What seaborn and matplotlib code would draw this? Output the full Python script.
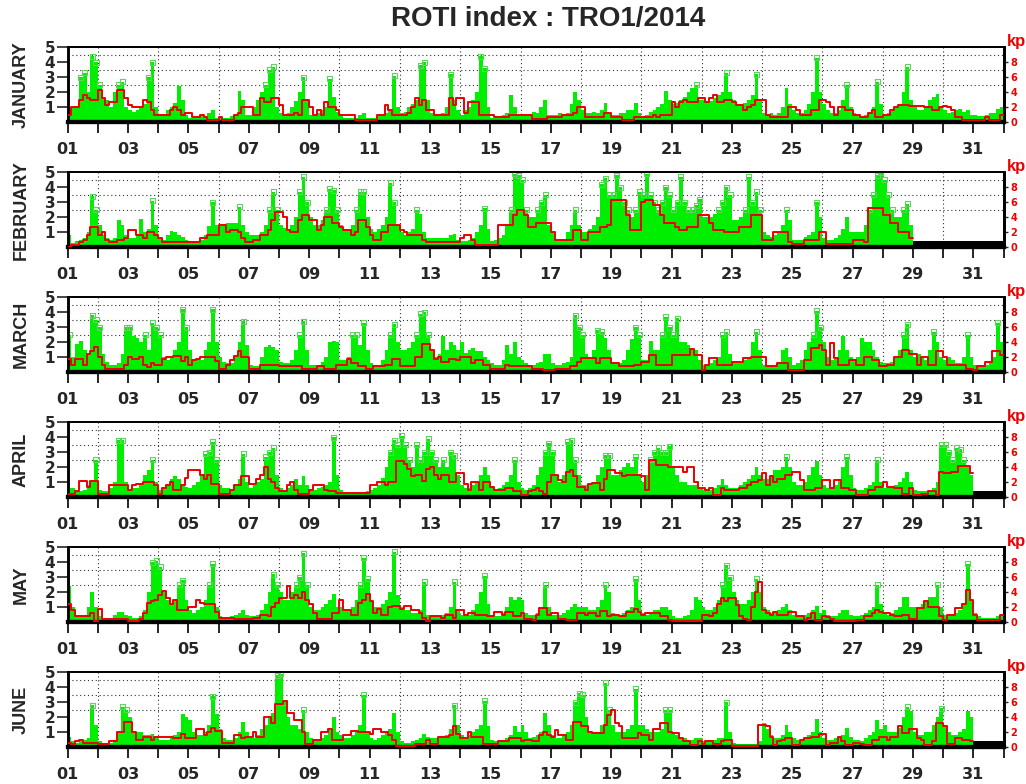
import numpy as np
import pandas as pd
import matplotlib
matplotlib.use('agg')
import matplotlib.pyplot as plt
import seaborn as sns

months = ["JANUARY", "FEBRUARY", "MARCH", "APRIL", "MAY", "JUNE"]
n_days = [31, 28, 31, 30, 31, 30]
day_labels = ["%02d" % d for d in range(1, 32, 2)]
kp_ticks = [0, 2, 4, 6, 8]

# ROTI, 3-hourly values (8 per day), in tenths
roti_jan = """
6 10 10 30 33 20 44 40  25 16 15 10 20 25 27 10
8 7 8 10 12 30 40 10  5 5 8 10 13 24 15 5
3 3 4 5 3 6 8 3  3 3 3 4 5 21 15 5
5 10 15 20 25 35 37 10  6 5 6 10 14 20 30 15
5 5 6 8 10 29 17 7  4 3 3 3 3 5 6 3
3 3 4 5 6 8 31 10  6 7 10 12 15 38 40 15
6 5 5 6 10 32 15 8  5 8 10 15 20 44 36 10
3 3 4 5 6 18 10 4  5 4 5 7 6 10 15 5
5 5 6 5 6 12 20 15  8 6 6 7 6 8 13 6
5 5 6 6 8 8 13 6  4 5 7 8 10 12 21 15
12 13 15 17 20 23 25 15  15 14 14 16 18 20 33 20
15 12 12 13 15 18 32 15  6 5 6 5 6 10 23 12
8 6 6 8 12 20 43 20  12 8 6 6 8 15 25 10
6 4 4 5 6 10 27 12  5 6 8 10 12 20 37 15
10 8 8 10 15 17 19 10  8 6 7 8 9 7 8 5
5 4 4 5 6 6 9 10
"""
roti_feb = """
8 3 4 5 6 10 34 25  15 8 6 5 6 18 15 8
6 6 8 19 10 12 31 15  6 5 8 11 10 8 7 5
4 4 3 5 8 14 30 15  15 15 16 16 16 27 15 10
8 8 8 10 15 25 37 25  15 13 12 15 20 37 47 30
20 15 15 18 25 39 38 25  15 12 12 15 25 37 37 20
12 10 12 15 20 43 30 15  10 8 10 12 25 22 10 6
6 6 6 6 6 8 9 5  4 4 5 6 10 15 26 12
4 5 6 8 15 25 49 48  45 25 20 20 25 30 35 15
10 5 4 5 10 15 25 15  10 10 12 15 20 42 46 35
35 48 40 30 25 20 25 37  35 49 35 30 25 30 40 35
25 30 47 30 25 25 28 32  20 20 20 22 25 30 40 35
18 18 20 25 47 30 37 25  10 8 7 8 10 15 25 18
5 5 5 7 8 10 30 20  6 5 5 6 8 12 20 10
10 10 10 15 25 35 48 50  45 35 25 20 20 25 29 15
"""
roti_mar = """
25 10 19 21 15 12 38 35  30 12 7 5 5 6 12 30
30 24 23 20 25 15 33 30  25 10 8 10 15 20 42 30
15 8 8 8 15 20 42 20  10 7 6 6 10 20 34 18
5 4 4 10 17 18 17 15  7 6 6 8 15 25 34 15
5 5 5 7 10 20 21 20  8 8 10 25 25 18 33 15
6 5 5 8 15 25 32 20  15 15 16 20 25 39 40 25
15 10 12 24 15 20 18 15  20 13 15 16 14 14 10 8
6 5 5 8 18 12 20 10  8 6 5 5 6 7 12 12
6 5 5 6 7 10 38 30  25 12 10 15 28 27 23 15
7 6 6 8 15 22 30 25  8 8 21 15 15 25 37 30
25 36 20 20 18 15 15 8  5 5 6 8 10 25 27 12
6 6 6 8 10 20 27 15  5 5 4 5 6 15 16 10
5 6 8 15 20 25 41 30  20 10 8 10 15 24 15 10
8 10 23 20 20 15 10 7  6 6 7 10 15 25 32 15
10 12 10 8 15 27 20 10  8 10 8 6 6 10 25 10
5 5 5 5 6 10 33 20
"""
roti_apr = """
6 6 4 4 5 8 10 25  5 4 4 6 10 38 38 10
5 6 6 8 15 18 25 10  5 6 8 12 14 12 8 7
6 8 10 15 29 30 37 25  8 6 6 5 8 12 29 10
6 8 10 12 27 30 33 15  6 5 6 8 12 8 14 8
5 5 6 7 8 10 40 15  5 3 3 3 3 3 3 4
5 6 8 13 20 30 38 35  41 35 25 20 35 25 30 39
30 25 20 25 20 30 28 15  8 6 6 8 10 15 20 15
6 5 6 8 10 15 25 10  6 5 6 8 15 20 30 36
30 15 10 15 37 38 25 15  8 8 8 10 15 20 28 28
15 15 18 20 23 20 27 15  10 15 25 30 33 30 30 34
20 15 10 10 8 8 8 6  5 5 5 6 8 12 8 6
6 6 8 10 12 15 20 15  12 12 15 18 18 20 27 20
10 8 8 10 15 20 24 15  8 6 6 8 12 20 27 15
6 5 5 6 8 10 25 10  6 6 6 8 10 13 17 10
5 4 4 4 5 6 10 35  35 30 25 33 32 25 20 15
"""
roti_may = """
24 10 5 4 5 10 20 10  4 3 3 3 5 7 7 5
4 3 3 4 8 20 40 41  37 20 15 12 15 25 28 15
8 6 8 10 15 25 39 10  4 3 3 4 5 6 8 5
4 4 5 8 12 20 32 25  20 15 15 20 25 30 46 25
10 8 8 10 12 15 19 10  10 8 8 10 15 25 43 29
15 10 10 12 15 20 47 18  10 8 8 6 6 8 27 5
4 4 4 5 6 10 27 8  5 5 5 8 12 20 31 12
4 4 4 6 10 17 15 17  15 6 5 5 6 10 25 10
5 5 5 6 8 10 12 10  10 10 8 8 10 15 25 20
6 5 5 6 8 10 29 15  6 5 6 8 8 10 10 8
4 3 3 4 5 8 17 15  10 8 8 10 15 25 38 30
20 15 12 12 15 20 29 20  10 8 6 6 8 10 12 8
5 4 4 5 6 8 11 6  8 5 4 4 6 8 8 5
4 4 5 6 8 10 25 12  6 5 6 8 10 17 17 10
10 10 12 15 17 17 25 10  5 5 5 6 8 12 39 15
6 4 3 3 3 3 4 5
"""
roti_jun = """
7 4 3 4 5 6 28 15  4 3 3 3 5 10 27 25
20 10 10 10 8 8 9 6  5 5 5 6 8 10 22 20
18 10 8 8 10 15 34 22  12 6 5 5 6 10 17 10
6 6 8 12 15 20 23 48  49 30 20 15 15 12 25 10
6 5 5 6 8 12 20 10  8 6 6 8 10 15 35 10
6 5 6 8 10 12 23 10  4 3 3 4 5 6 9 7
6 6 6 7 8 12 28 15  8 6 8 10 12 15 31 14
5 4 4 5 6 8 14 10  15 10 6 7 8 10 23 15
8 6 6 8 10 15 30 36  35 20 10 10 10 15 43 25
15 10 10 10 12 15 39 15  15 12 10 10 10 12 25 25
10 8 6 6 5 5 6 6  4 4 5 5 6 6 30 10
3 2 2 2 2 2 2 4  16 12 8 6 6 8 15 10
6 5 5 6 8 10 19 10  6 5 5 6 6 8 13 7
5 5 4 6 8 10 18 12  15 10 10 10 13 20 27 24
10 8 8 10 10 15 20 26  15 10 8 8 10 12 24 20
"""

# Kp index, 3-hourly values (8 per day), in tenths
kp_jan = """
10 20 20 30 37 33 30 30  43 33 23 27 27 43 43 33
23 20 20 20 30 27 17 10  10 10 10 17 20 17 10 13
13 7 7 10 7 3 3 3  7 3 3 3 10 13 20 20
20 10 10 33 27 27 33 33  23 10 10 10 13 10 30 30
20 10 17 10 27 20 20 17  10 10 10 10 3 3 3 3
3 3 10 10 23 17 10 10  10 10 13 20 33 23 30 17
17 10 10 10 10 33 23 33  33 13 27 27 27 10 10 10
10 7 7 7 7 10 10 10  10 10 10 5 5 5 5 7
7 7 7 10 10 10 13 20  20 7 7 7 7 7 13 13
7 7 7 3 3 3 7 7  7 7 7 10 7 10 10 10
27 20 27 30 27 27 27 33  33 27 33 37 27 27 30 30
27 23 23 17 20 23 30 30  30 10 7 7 7 7 7 20
20 17 10 10 10 17 17 30  30 27 20 10 20 20 17 17
10 10 7 7 13 17 7 7  10 10 17 20 23 23 23 22
22 22 22 20 20 17 17 20  22 20 17 7 7 3 3 3
3 3 3 7 3 3 3 10
"""
kp_feb = """
0 3 3 7 10 17 27 27  17 20 10 7 7 10 10 13
23 23 17 17 13 20 20 17  13 7 7 7 7 7 7 7
7 7 7 13 13 17 17 17  30 30 20 23 23 20 13 7
7 10 10 17 17 23 37 47  47 40 23 20 20 37 43 43
37 37 23 30 40 40 33 33  27 23 23 17 20 37 37 27
17 10 10 20 20 30 30 30  23 20 17 17 17 17 10 7
7 7 7 7 7 7 7 7  13 17 17 10 3 3 3 3
3 3 30 30 30 30 43 50  50 43 27 27 33 33 33 33
20 10 10 10 10 10 23 23  10 10 20 20 20 27 27 30
63 63 63 63 43 23 23 23  60 63 63 57 57 43 33 33
33 27 23 23 27 27 27 43  43 43 33 23 23 23 20 20
20 20 27 27 27 43 43 43  10 10 10 20 20 20 20 7
5 5 5 10 10 10 10 20  20 5 5 5 5 5 5 5
10 10 10 7 53 53 53 53  43 43 33 33 20 20 20 13
"""
kp_mar = """
18 10 18 18 10 24 28 34  20 10 5 5 5 5 5 10
20 18 18 20 10 7 12 10  10 18 20 20 22 22 15 20
10 16 18 20 20 20 20 15  5 4 10 16 22 28 20 20
4 4 4 10 10 10 10 10  8 8 8 8 8 8 4 4
4 4 8 8 4 4 4 10  10 10 18 12 12 8 8 4
4 8 8 8 10 10 18 18  8 8 8 8 20 20 38 38
30 18 20 14 14 18 18 16  20 20 20 12 16 16 10 10
4 4 4 4 10 8 8 8  8 8 8 5 5 5 3 3
3 5 5 5 5 8 8 14  19 19 19 19 12 19 19 19
12 12 8 8 8 8 10 10  14 14 23 23 10 10 10 10
23 23 23 23 23 31 23 23  3 10 19 19 10 10 10 10
14 14 14 19 19 20 20 20  20 8 8 8 12 12 12 3
3 3 3 16 16 32 32 36  30 10 39 19 10 10 10 16
16 10 10 21 21 16 16 8  8 10 10 21 21 30 30 25
25 10 21 21 10 10 28 28  21 10 10 10 10 10 5 5
3 8 8 14 14 28 28 23
"""
kp_apr = """
4 4 8 22 22 14 22 22  4 4 4 16 16 16 16 16
10 16 18 18 20 20 20 16  4 12 16 20 10 10 16 26
36 36 36 30 24 30 18 18  4 4 4 10 16 16 28 28
18 18 24 30 40 24 20 12  8 8 16 20 10 4 4 4
10 16 16 16 10 8 8 6  6 6 6 6 6 6 6 6
16 16 20 20 16 20 20 48  48 44 38 28 30 30 22 38
40 30 24 30 30 20 20 32  32 18 10 20 20 10 20 20
14 10 10 10 12 12 8 8  3 3 8 10 12 8 5 21
30 30 23 21 34 37 28 14  14 10 18 19 19 10 25 36
36 32 32 28 30 30 30 30  28 10 50 50 43 43 43 41
41 41 41 34 41 41 21 12  12 10 12 3 3 12 10 10
10 10 12 12 16 20 20 23  32 16 28 21 25 25 30 30
34 34 23 10 10 10 12 12  23 23 12 23 23 12 12 10
10 3 3 3 10 10 14 14  21 14 14 12 12 5 5 12
3 3 5 5 8 8 3 34  32 32 34 34 42 42 42 32
"""
kp_may = """
24 16 8 8 8 8 12 2  18 4 4 4 4 4 4 4
2 2 2 4 12 26 28 30  36 42 32 24 30 16 16 16
20 20 30 26 24 24 24 14  6 6 6 6 4 4 4 4
4 6 6 10 10 8 20 26  32 32 48 32 36 32 40 30
24 12 4 4 4 4 12 12  30 16 16 10 10 26 30 38
28 12 18 10 10 20 22 22  18 22 22 16 16 12 6 2
8 8 8 6 10 10 6 16  16 10 12 12 10 10 10 8
8 14 14 10 14 14 8 8  12 5 4 3 10 19 19 10
12 12 5 4 3 3 3 12  12 10 13 13 8 15 15 8
10 10 8 8 14 14 18 14  10 12 12 12 12 8 8 3
2 2 2 2 2 2 2 2  10 10 8 12 25 33 28 33
33 23 8 5 3 21 40 54  16 12 10 14 10 10 10 14
14 8 8 3 6 12 3 3  8 7 5 2 2 2 2 2
2 3 3 8 8 12 16 14  12 12 10 8 8 10 10 5
5 19 19 28 21 21 21 8  3 10 10 19 19 25 43 30
10 3 3 3 3 3 3 10
"""
kp_jun = """
6 4 8 10 6 6 6 6  4 4 4 8 8 20 20 34
34 20 10 10 14 14 10 14  14 14 14 14 12 12 18 12
12 12 24 24 16 20 26 22  22 6 6 6 16 16 12 14
14 20 14 14 40 40 32 58  58 62 46 46 36 36 20 4
4 10 10 20 20 24 10 10  10 16 16 22 22 20 20 20
18 24 24 20 20 16 10 2  2 2 2 2 4 4 4 10
4 4 14 14 14 16 28 18  12 12 20 14 14 14 4 4
4 4 8 8 8 12 12 12  8 10 10 8 8 16 21 16
14 23 16 16 10 10 34 34  28 28 21 19 19 19 30 43
50 32 28 12 12 12 12 19  16 16 10 24 24 32 32 21
19 19 13 8 8 3 3 8  5 8 8 5 5 8 10 10
2 2 2 2 2 2 2 30  30 28 14 3 8 10 12 12
3 3 10 12 12 14 14 18  18 3 6 6 14 8 3 3
6 6 5 3 3 10 10 14  14 10 14 14 28 19 19 25
25 13 10 3 3 8 32 32  28 5 5 13 13 10 10 8
"""

roti_text = [roti_jan, roti_feb, roti_mar, roti_apr, roti_may, roti_jun]
kp_text = [kp_jan, kp_feb, kp_mar, kp_apr, kp_may, kp_jun]

GREEN = '#00ee00'
MARK = '#5fd35f'
RED = '#ee0000'

sns.set_style('white')
plt.rcParams['font.family'] = ['DejaVu Sans']
plt.rcParams['axes.linewidth'] = 1.5

W, H = 1026, 784
fig = plt.figure(figsize=(W / 100, H / 100), dpi=100)
fig.text(548 / W, 1 - 19 / H, 'ROTI index : TRO1/2014', ha='center', va='center',
         fontsize=20, fontweight='bold', family='Liberation Sans')

x0, x1 = 67.7, 1003.6
for i, name in enumerate(months):
    top = 47.3 + 125 * i
    ax = fig.add_axes([x0 / W, 1 - (top + 75) / H, (x1 - x0) / W, 75 / H])

    roti = np.array(roti_text[i].split(), float) / 10
    kp = np.array(kp_text[i].split(), float) / 10
    t = 1 + np.arange(len(roti)) / 8
    tt = np.append(t, 1 + n_days[i])

    # dotted grid
    ax.hlines([2.5, 3.5, 4.5], 1, 32, colors='#333333', linestyles=(0, (1, 2.5)),
              lw=0.8, zorder=1)
    ax.vlines(np.arange(2, 32, 2), 0, 5, colors='#333333', linestyles=(0, (1, 2.5)),
              lw=0.8, zorder=1)

    ax.fill_between(tt, 0, np.append(roti, roti[-1]), step='post', color=GREEN,
                    lw=0, zorder=2)
    hi = roti >= 2.5
    ax.scatter(t[hi] + 1 / 16, roti[hi], marker='s', s=13, facecolors='none',
               edgecolors=MARK, linewidths=0.8, zorder=3)
    if n_days[i] < 31:
        ax.fill_between([1 + n_days[i], 32], 0, 0.4, color='black', lw=0, zorder=4)

    ax.set_xlim(1, 32)
    ax.set_ylim(0, 5)
    ax.set_xticks(range(1, 32, 2))
    ax.set_xticks(range(2, 33, 2), minor=True)
    ax.set_xticklabels(day_labels, fontsize=11.5, fontweight='bold')
    ax.tick_params(axis='x', which='both', direction='out', length=8, width=1.2,
                   color='black', pad=6, bottom=True)
    ax.set_yticks([1, 2, 3, 4, 5])
    ax.set_yticklabels(['1', '2', '3', '4', '5'], fontsize=11, fontweight='bold')
    ax.tick_params(axis='y', direction='out', length=8, width=1.2, pad=1, left=True)
    ax.set_ylabel(name, fontsize=13, fontweight='bold', family='Liberation Sans')
    ax.yaxis.set_label_coords(-0.041, 0.5)

    ax2 = ax.twinx()
    df = pd.DataFrame({'t': tt, 'kp': np.append(kp, kp[-1])})
    sns.lineplot(data=df, x='t', y='kp', ax=ax2, drawstyle='steps-post',
                 color=RED, lw=1.4, estimator=None, zorder=5)
    ax2.set_ylim(0, 10)
    ax2.set_xlim(1, 32)
    ax2.set_yticks(kp_ticks)
    ax2.set_yticklabels([str(k) for k in kp_ticks], fontsize=7, fontweight='bold',
                        color=RED)
    ax2.tick_params(axis='y', direction='out', length=3, width=1, pad=2, right=True)
    ax2.set_ylabel('')
    ax2.set_xlabel('')
    ax2.text(1.004, 1.02, 'kp', transform=ax2.transAxes, color=RED, fontsize=12,
             fontweight='bold', ha='left', va='baseline', family='Liberation Sans')

    for a in (ax, ax2):
        a.spines['bottom'].set_linewidth(3)
        a.spines['left'].set_linewidth(1.8)
        a.spines['right'].set_linewidth(2)
        a.spines['top'].set_linewidth(1.3)
        for s in a.spines.values():
            s.set_color('black')

fig.savefig('out.png', dpi=100)
